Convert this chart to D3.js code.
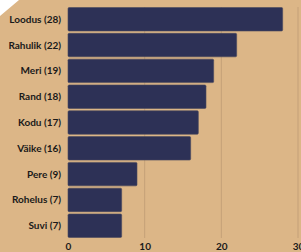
<!DOCTYPE html>
<html>
<head>
<meta charset="utf-8">
<script src="https://cdn.jsdelivr.net/npm/d3@7"></script>
<style>
  body { margin: 0; background: #ffffff; }
  svg { display: block; }
</style>
</head>
<body>
<svg id="chart" width="301" height="252"></svg>
<script>
var names = ["Loodus", "Rahulik", "Meri", "Rand", "Kodu", "Väike", "Pere", "Rohelus", "Suvi"];
var counts = [28, 22, 19, 18, 17, 16, 9, 7, 7];
var ticks = [0, 10, 20, 30];

var width = 301, height = 252;
var margin = { top: 7, right: 3, bottom: 14, left: 68 };

var svg = d3.select("#chart");

// background with the clipped corner
svg.append("rect")
    .attr("width", width)
    .attr("height", height)
    .attr("fill", "#dcb687");
svg.append("polygon")
    .attr("points", "0,0 19,0 0,16")
    .attr("fill", "#ffffff");

var x = d3.scaleLinear()
    .domain([0, 30])
    .range([margin.left, width - margin.right]);

var y = d3.scaleBand()
    .domain(names)
    .range([margin.top, height - margin.bottom])
    .paddingInner(0.09)
    .paddingOuter(0.02);

// grid lines
svg.append("g")
    .selectAll("line")
    .data(ticks.slice(1))
    .enter()
    .append("line")
    .attr("x1", function (d) { return x(d); })
    .attr("x2", function (d) { return x(d); })
    .attr("y1", margin.top)
    .attr("y2", height - margin.bottom)
    .attr("stroke", "#c4a078")
    .attr("stroke-width", 1);

// bars
svg.append("g")
    .selectAll("rect")
    .data(names)
    .enter()
    .append("rect")
    .attr("x", x(0))
    .attr("y", function (d) { return y(d); })
    .attr("width", function (d, i) { return x(counts[i]) - x(0); })
    .attr("height", y.bandwidth())
    .attr("rx", 1.2)
    .attr("fill", "#2d3156")
    .attr("stroke", "#4a4a5e")
    .attr("stroke-width", 0.6);

// category labels
svg.append("g")
    .selectAll("text")
    .data(names)
    .enter()
    .append("text")
    .attr("x", margin.left - 7)
    .attr("y", function (d) { return y(d) + y.bandwidth() / 2; })
    .attr("dy", "0.35em")
    .attr("text-anchor", "end")
    .attr("font-family", "Lato, sans-serif")
    .attr("font-weight", "bold")
    .attr("font-size", "10px")
    .attr("fill", "#1a1a1a")
    .text(function (d, i) { return d + " (" + counts[i] + ")"; });

// x axis
var xAxis = d3.axisBottom(x)
    .tickValues(ticks)
    .tickSize(0)
    .tickPadding(5);

var gx = svg.append("g")
    .attr("transform", "translate(0," + (height - margin.bottom) + ")")
    .call(xAxis);
gx.select(".domain").remove();
gx.selectAll("text")
    .attr("font-family", "Lato, sans-serif")
    .attr("font-weight", "bold")
    .attr("font-size", "10px")
    .attr("fill", "#1a1a1a");
</script>
</body>
</html>
